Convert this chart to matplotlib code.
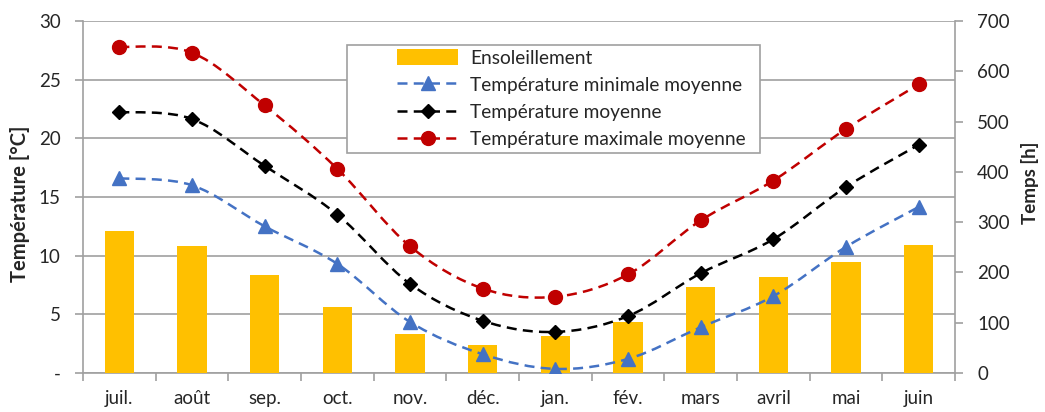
import matplotlib
matplotlib.use("Agg")
import matplotlib.pyplot as plt
import numpy as np
from matplotlib.path import Path
from matplotlib.patches import PathPatch, Patch, Rectangle
from matplotlib.lines import Line2D

months = ["juil.", "août", "sep.", "oct.", "nov.", "déc.", "jan.", "fév.", "mars", "avril", "mai", "juin"]
sunshine = [282, 252, 195, 131, 77, 56, 74, 101, 171, 191, 221, 254]
t_min = [16.6, 16.0, 12.5, 9.3, 4.35, 1.6, 0.35, 1.2, 3.9, 6.55, 10.75, 14.15]
t_mean = [22.25, 21.65, 17.65, 13.5, 7.6, 4.45, 3.5, 4.85, 8.5, 11.4, 15.85, 19.45]
t_max = [27.8, 27.3, 22.8, 17.4, 10.8, 7.2, 6.5, 8.4, 13.0, 16.4, 20.8, 24.6]

temp_ticks = [0, 5, 10, 15, 20, 25, 30]
temp_labels = ["-", "5", "10", "15", "20", "25", "30"]
hour_ticks = [0, 100, 200, 300, 400, 500, 600, 700]

plt.rcParams['font.family'] = ['Lato', 'DejaVu Sans']
GRAY = "#A0A0A0"
TXT = "#262626"
W, H = 1045, 412

fig = plt.figure(figsize=(10.45, 4.12), dpi=100)
rect = [83/W, 1-373/H, (955-83)/W, (373-21)/H]
ax = fig.add_axes(rect)
ax2 = ax.twinx()
ax3 = ax.twinx()

x = np.arange(len(months))

# base axis: temperature, grid
ax.set_xlim(-0.5, len(months)-0.5)
ax.set_ylim(0, 30)
ax.set_yticks(temp_ticks)
ax.set_yticklabels(temp_labels)
ax.grid(axis='y', color=GRAY, linewidth=1.2)
ax.set_axisbelow(True)
ax.set_xticks(x)
ax.set_xticklabels(months)
ax.set_xticks(np.arange(-0.5, len(months), 1.0), minor=True)
ax.tick_params(axis='x', which='major', length=0, pad=12, labelsize=13.5, colors=TXT)
ax.tick_params(axis='x', which='minor', length=6, color=GRAY, width=1.2)
ax.tick_params(axis='y', length=6, color=GRAY, width=1.2, labelsize=13.5, labelcolor=TXT, pad=10)
for s in ['top', 'right']:
    ax.spines[s].set_visible(False)
for s in ['left', 'bottom']:
    ax.spines[s].set_color(GRAY)
    ax.spines[s].set_linewidth(1.2)

# hours axis with bars
ax2.set_ylim(0, 700)
ax2.set_yticks(hour_ticks)
ax2.bar(x, sunshine, width=0.4, color="#FFC000", zorder=2)
ax2.tick_params(axis='y', length=6, color=GRAY, width=1.2, labelsize=13.5, labelcolor=TXT, pad=10)
for s in ['top', 'left', 'bottom']:
    ax2.spines[s].set_visible(False)
ax2.spines['right'].set_color(GRAY)
ax2.spines['right'].set_linewidth(1.2)

# axis titles at fixed pixel positions
fig.text(20/W, 1-204/H, "Température [°C]", rotation=90, ha='center', va='center',
         fontsize=14.5, fontweight='bold', color=TXT)
fig.text(1030/W, 1-183/H, "Temps [h]", rotation=90, ha='center', va='center',
         fontsize=13.5, fontweight='bold', color=TXT)

# lines axis
ax3.set_ylim(0, 30)
ax3.axis('off')


def smooth_path(xs, ys):
    xs = np.asarray(xs, float)
    ys = np.asarray(ys, float)
    n = len(xs)
    verts = [(xs[0], ys[0])]
    codes = [Path.MOVETO]
    for i in range(n-1):
        p0 = np.array([xs[max(i-1, 0)], ys[max(i-1, 0)]])
        p1 = np.array([xs[i], ys[i]])
        p2 = np.array([xs[i+1], ys[i+1]])
        p3 = np.array([xs[min(i+2, n-1)], ys[min(i+2, n-1)]])
        c1 = p1 + (p2 - p0) / 6.0
        c2 = p2 - (p3 - p1) / 6.0
        verts += [tuple(c1), tuple(c2), tuple(p2)]
        codes += [Path.CURVE4]*3
    return Path(verts, codes)

series = [
    (t_min, "#4472C4", "^", 10, "Température minimale moyenne"),
    (t_mean, "black", "D", 7.5, "Température moyenne"),
    (t_max, "#C00000", "o", 10, "Température maximale moyenne"),
]
handles = [Patch(facecolor="#FFC000", edgecolor="none", label="Ensoleillement")]
dashes = (4, 2.5)
for ys, col, mk, ms, lab in series:
    patch = PathPatch(smooth_path(x, ys), fill=False, edgecolor=col, linewidth=1.8,
                      linestyle=(0, dashes), zorder=3, capstyle='butt')
    ax3.add_patch(patch)
    ax3.plot(x, ys, linestyle='none', marker=mk, markersize=ms, color=col, zorder=4)
    handles.append(Line2D([], [], color=col, linewidth=1.8, linestyle=(0, dashes),
                          marker=mk, markersize=ms, label=lab))

# legend frame drawn separately (Excel legend box is wider than its content)
frame = Rectangle((347/W, 1-153/H), (760-347)/W, (153-45)/H,
                  transform=fig.transFigure, fill=True, facecolor='white',
                  edgecolor=GRAY, linewidth=1.2, zorder=5)
fig.add_artist(frame)
leg = fig.legend(handles=handles, loc='upper left', bbox_to_anchor=(397/W, 1-49/H),
                 bbox_transform=fig.transFigure, fontsize=13.8, frameon=False,
                 handlelength=3.2, handleheight=0.9, handletextpad=0.6,
                 borderpad=0, labelspacing=0.5, borderaxespad=0)
leg.set_zorder(6)
for t in leg.get_texts():
    t.set_color(TXT)

fig.savefig("out.png", dpi=100)
